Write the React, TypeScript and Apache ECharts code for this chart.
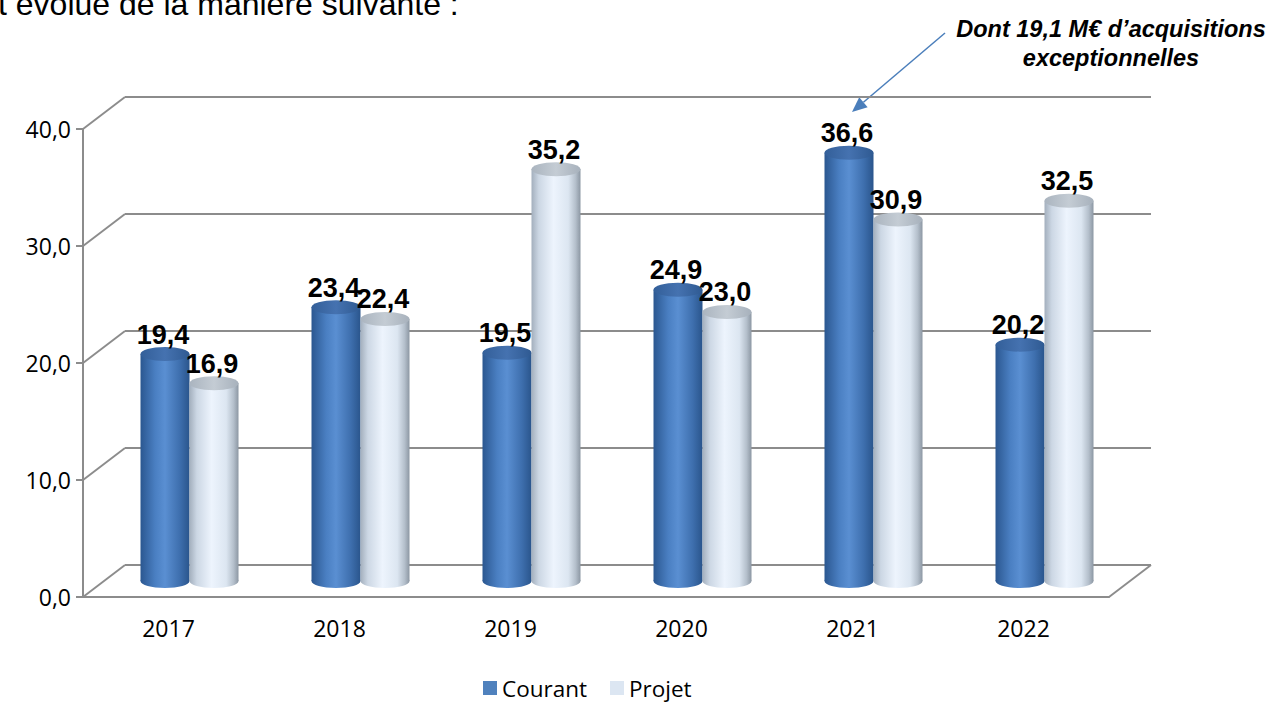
import React, { useEffect, useRef } from "react";
import * as echarts from "echarts";

const years = ["2017", "2018", "2019", "2020", "2021", "2022"];
const courant = [19.4, 23.4, 19.5, 24.9, 36.6, 20.2];
const projet = [16.9, 22.4, 35.2, 23.0, 30.9, 32.5];
const yTicks = [0, 10, 20, 30, 40];
const seriesNames = ["Courant", "Projet"];
const introText = "t évolue de la manière suivante :";
const noteText = "Dont 19,1 M€ d’acquisitions\nexceptionnelles";

const GRAY = "#8c8c8c";
const DX = 42;
const DY = -32;

const fmt = (v: number) => v.toFixed(1).replace(".", ",");

const courantBody = [
  { offset: 0, color: "#2b5790" },
  { offset: 0.3, color: "#4a7fc2" },
  { offset: 0.5, color: "#5a8fd2" },
  { offset: 0.8, color: "#3e6fae" },
  { offset: 1, color: "#2a558c" },
];
const courantCap = [
  { offset: 0, color: "#335f99" },
  { offset: 0.5, color: "#4572b0" },
  { offset: 1, color: "#2f5a92" },
];
const projetBody = [
  { offset: 0, color: "#a3afbd" },
  { offset: 0.15, color: "#ccd7e4" },
  { offset: 0.45, color: "#edf4fd" },
  { offset: 0.75, color: "#dce6f1" },
  { offset: 0.9, color: "#b4bfcb" },
  { offset: 1, color: "#8c97a3" },
];
const projetCap = [
  { offset: 0, color: "#aab4bf" },
  { offset: 0.5, color: "#c4ccd4" },
  { offset: 1, color: "#a7b1bc" },
];

function makeBarRender(side: number, body: any[], cap: any[]) {
  return (params: any, api: any) => {
    const idx = api.value(0);
    const val = api.value(1);
    const top = api.coord([idx, val]);
    const base = api.coord([idx, 0]);
    const bw = 49;
    const r = bw / 2;
    const cx = top[0] + DX / 2 + side * r;
    const ty = top[1] + DY / 2;
    const by = base[1] + DY / 2;
    const ry = 7;
    const bodyFill = new echarts.graphic.LinearGradient(0, 0, 1, 0, body);
    const capFill = new echarts.graphic.LinearGradient(0, 0, 1, 0, cap);
    return {
      type: "group",
      children: [
        {
          type: "ellipse",
          shape: { cx, cy: by, rx: r, ry },
          style: { fill: bodyFill },
        },
        {
          type: "rect",
          shape: { x: cx - r, y: ty, width: bw, height: by - ty },
          style: { fill: bodyFill },
        },
        {
          type: "ellipse",
          shape: { cx, cy: ty, rx: r, ry },
          style: { fill: capFill },
        },
        {
          type: "text",
          z2: 100,
          style: {
            text: fmt(val),
            x: cx - 2,
            y: ty - 6,
            textAlign: "center",
            textVerticalAlign: "bottom",
            font: "bold 27px 'Liberation Sans', Arial, sans-serif",
            fill: "#000",
          },
        },
      ],
    };
  };
}

export default function App() {
  const ref = useRef<HTMLDivElement>(null);
  useEffect(() => {
    if (!ref.current) return;
    const chart = echarts.init(ref.current, null, { renderer: "svg" });
    const labelFont = "'Open Sans', sans-serif";
    const tip = [852, 112];
    const ux = -0.762, uy = 0.648;
    const hl = 15, hw = 6.5;
    const bx = tip[0] - hl * ux, by = tip[1] - hl * uy;
    const px = -uy * hw, py = ux * hw;
    chart.setOption({
      animation: false,
      backgroundColor: "#ffffff",
      grid: [
        { left: 83, top: 129, width: 1026, height: 468 },
        { left: 83 + DX, top: 129 + DY, width: 1026, height: 468 },
      ],
      xAxis: [
        {
          type: "category",
          data: years,
          gridIndex: 0,
          axisLine: { lineStyle: { color: GRAY, width: 2 } },
          axisTick: { length: 7, lineStyle: { color: GRAY, width: 2 } },
          axisLabel: { color: "#000", fontSize: 23, fontFamily: labelFont, margin: 19 },
        },
        { type: "category", data: years, gridIndex: 1, show: false },
      ],
      yAxis: [
        {
          type: "value",
          gridIndex: 0,
          min: 0,
          max: 40,
          interval: 10,
          axisLine: { show: true, lineStyle: { color: GRAY, width: 2 } },
          axisTick: { show: true, length: 7, lineStyle: { color: GRAY, width: 2 } },
          splitLine: { show: false },
          axisLabel: {
            color: "#000",
            fontSize: 23,
            fontFamily: labelFont,
            margin: 12,
            formatter: (v: number) => fmt(v),
          },
        },
        {
          type: "value",
          gridIndex: 1,
          min: 0,
          max: 40,
          interval: 10,
          axisLine: { show: false },
          axisTick: { show: false },
          axisLabel: { show: false },
          splitLine: { show: true, lineStyle: { color: GRAY, width: 2 } },
        },
      ],
      legend: {
        data: seriesNames,
        left: 483,
        top: 676,
        padding: 0,
        icon: "rect",
        itemWidth: 14,
        itemHeight: 14,
        itemGap: 23,
        textStyle: { color: "#000", fontSize: 22.5, lineHeight: 24, fontFamily: labelFont },
      },
      graphic: [
        {
          type: "text",
          left: -2,
          top: -12,
          style: {
            text: introText,
            font: "32px 'Liberation Sans', Arial, sans-serif",
            fill: "#000",
          },
        },
        {
          type: "text",
          x: 1111,
          y: 14,
          style: {
            text: noteText,
            textAlign: "center",
            font: "italic bold 23.5px 'Liberation Sans', Arial, sans-serif",
            lineHeight: 29,
            fill: "#000",
          },
        },
        {
          type: "line",
          shape: { x1: 945, y1: 33, x2: bx, y2: by },
          style: { stroke: "#4a7ebb", lineWidth: 1.5 },
        },
        {
          type: "polygon",
          shape: {
            points: [
              [tip[0], tip[1]],
              [bx + px, by + py],
              [bx - px, by - py],
            ],
          },
          style: { fill: "#4a7ebb" },
        },
      ],
      series: [
        {
          type: "custom",
          name: "frame",
          xAxisIndex: 0,
          yAxisIndex: 0,
          silent: true,
          data: yTicks.map((v) => [0, v]),
          encode: { x: 0, y: 1 },
          renderItem: (params: any, api: any) => {
            const cs = params.coordSys;
            const v = api.value(1);
            const y = api.coord([0, v])[1];
            const children: any[] = [
              {
                type: "line",
                shape: { x1: cs.x, y1: y, x2: cs.x + DX, y2: y + DY },
                style: { stroke: GRAY, lineWidth: 2 },
              },
            ];
            if (v === 0) {
              children.push({
                type: "line",
                shape: { x1: cs.x + cs.width, y1: y, x2: cs.x + cs.width + DX, y2: y + DY },
                style: { stroke: GRAY, lineWidth: 2 },
              });
            }
            return { type: "group", children };
          },
        },
        {
          type: "custom",
          name: seriesNames[0],
          xAxisIndex: 0,
          yAxisIndex: 0,
          itemStyle: { color: "#4f81bd" },
          data: courant.map((v, i) => [i, v]),
          encode: { x: 0, y: 1 },
          renderItem: makeBarRender(-1, courantBody, courantCap),
        },
        {
          type: "custom",
          name: seriesNames[1],
          xAxisIndex: 0,
          yAxisIndex: 0,
          itemStyle: { color: "#dce6f2" },
          data: projet.map((v, i) => [i, v]),
          encode: { x: 0, y: 1 },
          renderItem: makeBarRender(1, projetBody, projetCap),
        },
      ],
    });
    return () => chart.dispose();
  }, []);
  return (
    <div
      ref={ref}
      style={{ position: "absolute", left: 0, top: 0, width: 1274, height: 704 }}
    />
  );
}
